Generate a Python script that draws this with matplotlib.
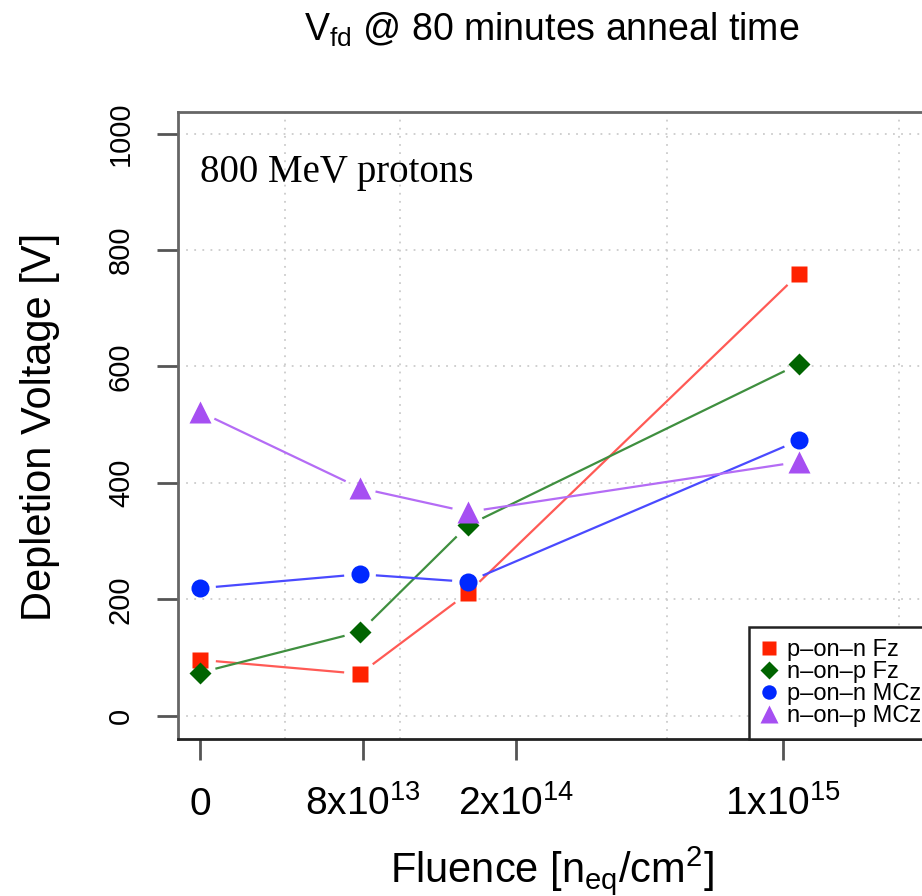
import matplotlib.pyplot as plt
import numpy as np
from matplotlib.lines import Line2D

plt.rcParams['font.family'] = ['Liberation Sans', 'DejaVu Sans']
plt.rcParams['mathtext.fontset'] = 'custom'
plt.rcParams['mathtext.rm'] = 'Liberation Sans'
plt.rcParams['mathtext.it'] = 'Liberation Sans:italic'

# the original x axis is not linear in fluence, so points sit on an axis position scale
tick_labels = ['0', r'8x10$^{13}$', r'2x10$^{14}$', r'1x10$^{15}$']
tick_pos = [0, 163, 316, 583]
point_pos = [0, 160, 268, 599]
grid_pos = [85, 200, 316, 467, 583, 699]
y_ticks = [0, 200, 400, 600, 800, 1000]

pn_fz = [96, 72, 211, 759]
np_fz = [74, 144, 327, 604]
pn_mcz = [219, 243, 230, 473]
np_mcz = [522, 391, 350, 436]

labels = ['p–on–n Fz', 'n–on–p Fz', 'p–on–n MCz', 'n–on–p MCz']
markers = ['s', 'D', 'o', '^']
msizes = [12, 11, 13, 16]
mcolors = ['#ff2200', '#006400', '#0028ff', '#a64ff2']
lcolors = ['#ff5a55', '#3f8f3f', '#4a4aff', '#b46cf5']

fig = plt.figure(figsize=(9.22, 8.96), dpi=100)
ax = fig.add_axes([178 / 922, 157 / 896, (940 - 178) / 922, (739 - 112) / 896])
ax.set_xlim(-22, 740)
ax.set_ylim(-40, 1037)


def gapped(xs, ys, gap, **kw):
    # R type="b": segments stop short of the points
    pts = ax.transData.transform(np.column_stack([xs, ys]))
    inv = ax.transData.inverted()
    for a, b in zip(pts[:-1], pts[1:]):
        d = b - a
        u = d / np.hypot(*d)
        seg = inv.transform([a + u * gap, b - u * gap])
        ax.plot(seg[:, 0], seg[:, 1], **kw)


for ys, m, ms, mc, lc in zip([pn_fz, np_fz, pn_mcz, np_mcz], markers, msizes, mcolors, lcolors):
    gapped(point_pos, ys, 17, color=lc, lw=1.6, zorder=2)
    ax.plot(point_pos, ys, linestyle='none', marker=m, ms=ms, color=mc, mec='none', zorder=3)

# grid
ax.set_yticks(y_ticks)
ax.set_yticklabels([str(v) for v in y_ticks], rotation=90, fontsize=21)
ax.set_xticks(tick_pos)
ax.set_xticklabels(tick_labels, fontsize=28)
ax.set_xticks(grid_pos, minor=True)
ax.grid(True, which='minor', axis='x', color='#cccccc', lw=1.3, linestyle=(0, (1, 3.5)))
ax.grid(True, which='major', axis='y', color='#cccccc', lw=1.3, linestyle=(0, (1, 3.5)))
ax.set_axisbelow(True)

ax.tick_params(axis='x', which='minor', length=0)
ax.tick_params(axis='both', which='major', length=15, width=2, color='#555555')
ax.tick_params(axis='x', which='major', pad=40)
ax.tick_params(axis='y', which='major', pad=16)
for t in ax.get_xticklabels():
    t.set_va('baseline')
for t in ax.get_yticklabels():
    t.set_va('center')

for s in ['left', 'top']:
    ax.spines[s].set_color('#666666')
    ax.spines[s].set_linewidth(2)
ax.spines['bottom'].set_color('#222222')
ax.spines['bottom'].set_linewidth(2)

fig.text(552 / 922, 1 - 30 / 896, r'V$_{\mathrm{fd}}$ @ 80 minutes anneal time',
         fontsize=27, ha='center', va='center')
fig.text(552 / 922, 1 - 870 / 896, r'Fluence [n$_{\mathrm{eq}}$/cm$^{2}$]',
         fontsize=30, ha='center', va='center')
fig.text(40 / 922, 1 - 427 / 896, 'Depletion Voltage [V]',
         fontsize=30, ha='center', va='center', rotation=90)
fig.text(200 / 922, 1 - 182 / 896, '800 MeV protons',
         family='Liberation Serif', fontsize=28, va='baseline')

handles = [Line2D([], [], linestyle='none', marker=m, ms=ms * 0.8, color=mc, mec='none')
           for m, ms, mc in zip(markers, msizes, mcolors)]
leg = fig.legend(handles, labels, loc='lower left', bbox_to_anchor=(749 / 922, 157 / 896),
                 bbox_transform=fig.transFigure, borderaxespad=0, fontsize=17,
                 labelspacing=0.0, handlelength=0.7, handletextpad=0.4, borderpad=0.5,
                 fancybox=False, framealpha=1, edgecolor='#222222')
leg.get_frame().set_linewidth(1.8)

fig.savefig('out.png', dpi=100)
